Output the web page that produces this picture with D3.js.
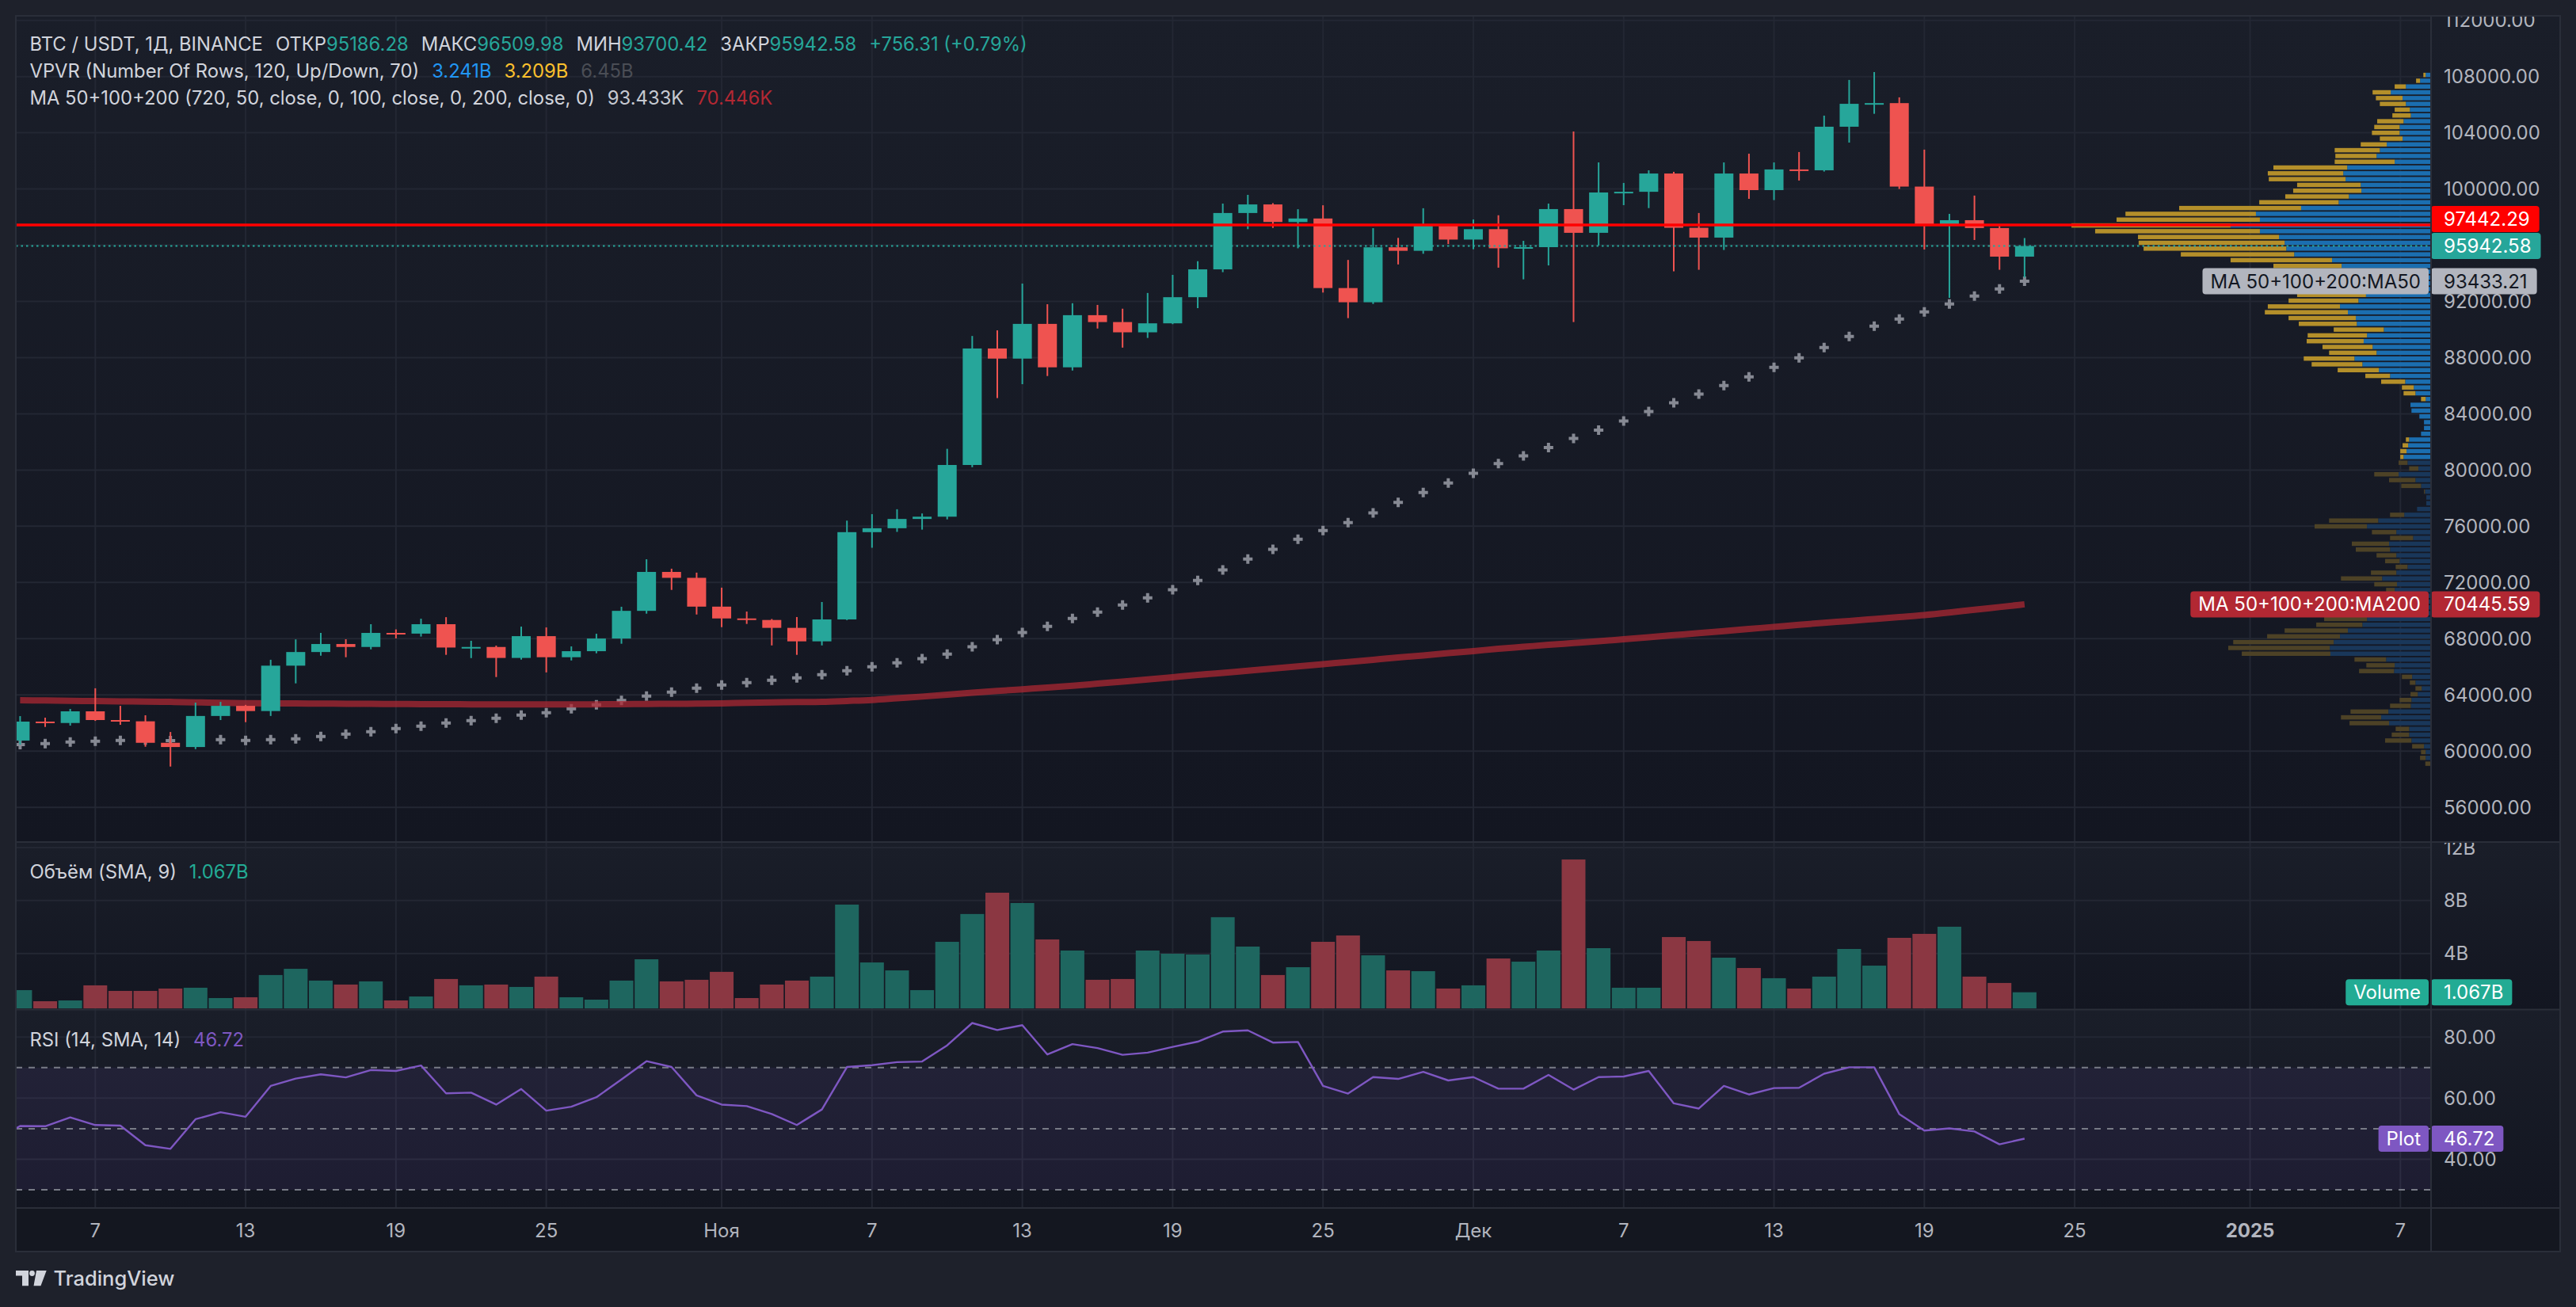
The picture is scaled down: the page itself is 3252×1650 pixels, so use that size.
<!DOCTYPE html>
<html><head>
<meta charset="utf-8">
<title>BTC / USDT, 1Д, BINANCE</title>
<script src="https://cdn.jsdelivr.net/npm/d3@7"></script>
<style>
  body { margin: 0; background: #1e212b; }
  svg { display: block; font-family: Inter, "Noto Sans", sans-serif; }
</style>
</head>
<body>
<svg id="chart" width="3252" height="1650"></svg>

<script>
// ---- data ----

// daily candles, first one is 4 Oct 2024
const firstDay = "2024-10-04";
const opens  = [60750,62100,62000,62830,62210,62120,60590,60290,62500,63220,
                62850,66080,67050,67620,67410,68410,68360,69030,67370,67410,
                66630,68180,66680,67110,68010,69980,72750,72330,70280,69440,
                69330,68770,67810,69370,75580,75860,76520,76680,80360,88650,
                87930,90400,87310,91020,90530,89800,90440,92300,94280,98290,
                98900,97650,97900,92950,91940,95850,95600,97380,96400,97140,
                95780,95860,98570,96880,99750,99800,101100,97240,96540,101100,
                99920,101390,101330,104430,106060,106110,100170,97460,97780,97220,
                95186.28];
const highs  = [62490,62380,63000,64470,63220,62550,61360,63450,63500,63290,
                66500,67950,68410,67960,69030,68660,69420,69530,67850,67510,
                68860,68800,67450,68350,70270,73650,72980,72700,71630,69930,
                69400,69540,70610,76400,76860,77210,76910,81510,89540,89940,
                93270,91800,91870,91750,91480,92600,93890,94860,98960,99580,
                98990,98560,98840,94950,97210,96520,98630,97460,97830,98130,
                96310,98960,104090,101890,100430,101330,101220,98290,101890,102510,
                101890,102630,105220,107760,108320,106520,102800,98230,99530,97400,
                96509.98];
const lows   = [60460,61720,61815,62150,61870,60310,58900,60140,62210,62060,
                62500,64820,66790,66680,67240,68020,68150,66850,66620,65270,
                66510,65600,66450,66960,67640,69780,71470,69720,68820,69050,
                67520,66850,67520,69320,74470,75600,75760,76490,80200,85120,
                86110,86690,87080,90070,88710,89400,90380,91520,94080,97140,
                97230,95780,92630,90810,91820,94630,95390,96080,95710,94400,
                93570,94560,90530,95980,98850,98640,94140,94250,95660,99300,
                99210,100600,101240,103300,105350,100000,95690,92250,96370,94250,
                93700.42];
const closes = [62100,62000,62830,62210,62120,60590,60290,62500,63220,62850,
                66080,67050,67620,67410,68410,68360,69030,67370,67410,66630,
                68180,66680,67110,68010,69980,72750,72330,70280,69440,69330,
                68770,67810,69370,75580,75860,76520,76680,80360,88650,87930,
                90400,87310,91020,90530,89800,90440,92300,94280,98290,98900,
                97650,97900,92950,91940,95850,95600,97380,96400,97140,95780,
                95860,98570,96880,99750,99800,101100,97240,96540,101100,99920,
                101390,101330,104430,106060,106110,100170,97460,97780,97220,95186.27,
                95942.58];
// daily volume, billions USDT
const volumes = [1.23,0.39,0.45,1.59,1.17,1.17,1.35,1.41,0.63,0.69,
                 2.37,2.84,1.95,1.65,1.89,0.45,0.75,2.07,1.59,1.65,
                 1.47,2.25,0.69,0.51,1.95,3.56,1.89,2.01,2.61,0.63,
                 1.65,1.95,2.25,7.69,3.32,2.72,1.23,4.88,6.98,8.59,
                 7.81,5.06,4.22,2.01,2.07,4.22,3.98,3.92,6.74,4.52,
                 2.37,2.96,4.88,5.36,3.86,2.72,2.66,1.35,1.59,3.62,
                 3.38,4.22,11.1,4.40,1.41,1.41,5.24,4.94,3.68,2.90,
                 2.13,1.35,2.25,4.34,3.08,5.18,5.48,6.02,2.25,1.77,
                 1.067];

// moving averages, one value per candle
const ma50 = [60462,60537,60650,60707,60763,60782,60744,60780,60820,60763,
              60820,60876,61045,61214,61383,61609,61778,62003,62173,62342,
              62567,62736,63018,63300,63600,63920,64202,64484,64709,64878,
              65047,65217,65442,65724,66000,66281,66580,66902,67431,67937,
              68443,68881,69433,69893,70399,70905,71481,72148,72885,73667,
              74358,75070,75691,76266,76956,77693,78407,79074,79764,80454,
              81006,81605,82249,82847,83492,84159,84780,85400,86016,86636,
              87313,87989,88722,89511,90244,90752,91259,91822,92386,92893,
              93433.21];
const ma200 = [63620,63600,63580,63560,63540,63520,63500,63470,63440,63410,
               63400,63390,63380,63370,63360,63350,63340,63335,63330,63325,
               63320,63320,63320,63330,63340,63355,63365,63375,63400,63430,
               63460,63490,63510,63570,63640,63760,63880,64010,64150,64280,
               64400,64520,64650,64800,64950,65100,65260,65420,65570,65720,
               65870,66030,66190,66340,66500,66660,66810,66970,67120,67280,
               67420,67560,67690,67820,67960,68100,68250,68400,68540,68690,
               68840,68990,69130,69260,69400,69540,69680,69860,70060,70250,
               70445.59];

// RSI line, starts one day earlier (3 Oct)
const rsiFirstDay = "2024-10-03";
const rsi = [46.2,
             50.9,50.8,53.7,51.2,51.0,44.6,43.4,53.1,55.4,53.9,
             64.0,66.4,67.8,66.8,69.2,68.9,70.7,61.6,61.8,57.9,
             63.0,55.9,57.2,60.3,66.1,72.1,70.2,60.9,57.9,57.4,
             54.8,51.2,56.3,70.2,70.8,71.8,72.0,77.3,84.6,82.3,
             83.9,74.3,77.7,76.4,74.2,74.9,76.8,78.5,81.8,82.2,
             78.2,78.4,64.0,61.5,66.9,66.3,68.6,65.8,66.9,63.1,
             63.1,67.6,62.8,66.9,67.1,68.9,58.3,56.6,64.0,61.2,
             63.3,63.4,68.0,70.1,70.1,54.8,49.4,50.1,49.1,44.9,
             46.72];

// volume profile, 120 rows listed from the top (highest price) down
const profileUp = [14,31,74,120,84,74,62,59,81,93, 93,84,132,153,163,108,252,264,257,211,
                   209,247,278,392,529,517,606,517,459,442, 437,413,298,269,245,225,205,215,195,218,
                   274,250,226,223,141,192,202,175,163,230, 206,156,122,76,50,45,14,60,57,33,
                   19,19,28,64,67,72,81,69,36,96, 45,28,16,12,12,40,79,158,192,103,
                   52,125,122,103,93,69,103,146,101,108, 135,145,165,175,192,206,250,274,293,305,
                   303,134,108,110,55,45,26,38,57,59, 127,149,125,64,64,57,19,14,14,0];
const profileDown = [7,12,34,55,81,79,46,56,80,77, 84,69,79,137,125,182,224,229,233,193,
                     207,193,241,370,396,435,483,500,428,443, 433,344,308,207,200,200,200,200,209,212,
                     219,252,204,176,152,180,173,152,144,154, 154,125,75,73,36,36,14,0,0,0,
                     0,0,0,10,17,19,10,27,28,74, 80,60,3,0,0,0,43,149,159,74,
                     70,113,104,60,44,36,77,125,69,26, 90,100,100,120,130,140,192,221,305,308,
                     269,96,86,106,31,17,19,22,36,63, 115,122,120,41,53,80,36,14,17,15];
const valueAreaRows = 67;       // rows counted from the top that sit inside the value area
const pocPrice = 97442.29;
const profileTotals = ["3.241B", "3.209B", "6.45B"];

// axes
const priceTicks = [56000,60000,64000,68000,72000,76000,80000,84000,88000,92000,96000,100000,104000,108000,112000];
const volumeTicks = [4, 8, 12];
const volumeTickLabels = ["4B", "8B", "12B"];
const rsiTicks = [40, 60, 80];
const rsiLevels = [70, 50, 30];
const timeTicks = ["2024-10-07","2024-10-13","2024-10-19","2024-10-25","2024-11-01","2024-11-07","2024-11-13",
                   "2024-11-19","2024-11-25","2024-12-01","2024-12-07","2024-12-13","2024-12-19","2024-12-25",
                   "2025-01-01","2025-01-07"];
const timeTickLabels = ["7","13","19","25","Ноя","7","13","19","25","Дек","7","13","19","25","2025","7"];


// ---- layout ----
const paneLeft = 20, paneTop = 20, axisX = 3069, paneRight = 3232;
const mainBottom = 1063, volBottom = 1274.5, rsiBottom = 1525, timeBottom = 1580;

const upColor = "#26a69a", downColor = "#ef5350";
const textColor = "#d1d4dc", axisColor = "#b2b5be";
const gridColor = "#232733", lineColor = "#2a2e39";

const parseDay = d3.utcParse("%Y-%m-%d");
const startDay = parseDay(firstDay);

const candles = opens.map((o, i) => ({
  day: d3.utcDay.offset(startDay, i),
  open: o, high: highs[i], low: lows[i], close: closes[i], volume: volumes[i],
  ma50: ma50[i], ma200: ma200[i]
}));
const rsiPoints = rsi.map((v, i) => ({ day: d3.utcDay.offset(parseDay(rsiFirstDay), i), value: v }));

const x = d3.scaleUtc().domain([parseDay("2024-10-04"), parseDay("2025-01-07")]).range([25.4, 3030.3]);
const y = d3.scaleLinear().domain([53530, 112320]).range([mainBottom, paneTop]);
const yVol = d3.scaleLinear().domain([0, 12]).range([1270.5, 1070]);
const yRsi = d3.scaleLinear().domain([30, 70]).range([1502, 1347.8]);

const svg = d3.select("#chart");
const defs = svg.append("defs");

function gradient(id, c0, c1) {
  let g = defs.append("linearGradient").attr("id", id).attr("x1", 0).attr("x2", 0).attr("y1", 0).attr("y2", 1);
  g.append("stop").attr("offset", "0%").attr("stop-color", c0);
  g.append("stop").attr("offset", "100%").attr("stop-color", c1);
}
gradient("paneBg", "#1a1e29", "#131621");

function clip(id, x0, y0, x1, y1) {
  defs.append("clipPath").attr("id", id)
    .append("rect").attr("x", x0).attr("y", y0).attr("width", x1 - x0).attr("height", y1 - y0);
}
clip("clipMain", paneLeft, paneTop, axisX, mainBottom);
clip("clipVol", paneLeft, mainBottom, axisX, volBottom);
clip("clipRsi", paneLeft, volBottom, axisX, rsiBottom);
clip("clipMainAxis", axisX, paneTop, paneRight, mainBottom);
clip("clipVolAxis", axisX, mainBottom, paneRight, volBottom);

// backgrounds
svg.append("rect").attr("width", 3252).attr("height", 1650).attr("fill", "#1e212b");
[[paneTop, mainBottom], [mainBottom, volBottom], [volBottom, rsiBottom]].forEach(function(p) {
  svg.append("rect").attr("x", paneLeft).attr("y", p[0]).attr("width", paneRight - paneLeft).attr("height", p[1] - p[0])
    .attr("fill", "url(#paneBg)");
});
svg.append("rect").attr("x", paneLeft).attr("y", rsiBottom).attr("width", paneRight - paneLeft)
  .attr("height", timeBottom - rsiBottom).attr("fill", "#141720");

// grid
let grid = svg.append("g").attr("stroke", gridColor).attr("stroke-width", 2);
timeTicks.forEach(function(t) {
  let gx = x(parseDay(t));
  grid.append("line").attr("x1", gx).attr("x2", gx).attr("y1", paneTop).attr("y2", rsiBottom);
});
priceTicks.forEach(function(p) {
  grid.append("line").attr("x1", paneLeft).attr("x2", axisX).attr("y1", y(p)).attr("y2", y(p))
    .attr("clip-path", "url(#clipMain)");
});
volumeTicks.forEach(function(v) {
  grid.append("line").attr("x1", paneLeft).attr("x2", axisX).attr("y1", yVol(v)).attr("y2", yVol(v));
});
rsiTicks.forEach(function(v) {
  grid.append("line").attr("x1", paneLeft).attr("x2", axisX).attr("y1", yRsi(v)).attr("y2", yRsi(v));
});

// ---- RSI pane ----
let rsiLayer = svg.append("g").attr("clip-path", "url(#clipRsi)");
rsiLayer.append("rect").attr("x", paneLeft).attr("width", axisX - paneLeft)
  .attr("y", yRsi(70)).attr("height", yRsi(30) - yRsi(70))
  .attr("fill", "#7e57c2").attr("fill-opacity", 0.1);
rsiLevels.forEach(function(v) {
  rsiLayer.append("line").attr("x1", paneLeft).attr("x2", axisX).attr("y1", yRsi(v)).attr("y2", yRsi(v))
    .attr("stroke", "#787b86").attr("stroke-width", 2).attr("stroke-dasharray", "8,8");
});
rsiLayer.append("path").datum(rsiPoints)
  .attr("d", d3.line().x(d => x(d.day)).y(d => yRsi(d.value)))
  .attr("fill", "none").attr("stroke", "#7e57c2").attr("stroke-width", 2.4).attr("stroke-linejoin", "round");

// ---- volume pane ----
let volLayer = svg.append("g").attr("clip-path", "url(#clipVol)");
volLayer.selectAll("rect.vol").data(candles).join("rect").attr("class", "vol")
  .attr("x", d => x(d.day) - 15).attr("width", 30)
  .attr("y", d => yVol(d.volume)).attr("height", d => volBottom - 1.5 - yVol(d.volume))
  .attr("fill", d => d.close >= d.open ? "#1e665f" : "#8b3742");

// ---- main pane ----
let main = svg.append("g").attr("clip-path", "url(#clipMain)");

// MA50 drawn as crosses
main.selectAll("path.ma50").data(candles).join("path").attr("class", "ma50")
  .attr("transform", d => "translate(" + x(d.day) + "," + y(d.ma50) + ")")
  .attr("d", d3.symbol(d3.symbolCross, 80))
  .attr("fill", "#868993");

// MA200
main.append("path").datum(candles)
  .attr("d", d3.line().curve(d3.curveMonotoneX).x(d => x(d.day)).y(d => y(d.ma200)))
  .attr("fill", "none").attr("stroke", "#b22833").attr("stroke-opacity", 0.72)
  .attr("stroke-width", 8).attr("stroke-linecap", "butt");

// candles
let candleG = main.selectAll("g.candle").data(candles).join("g").attr("class", "candle");
candleG.append("line")
  .attr("x1", d => x(d.day)).attr("x2", d => x(d.day))
  .attr("y1", d => y(d.high)).attr("y2", d => y(d.low))
  .attr("stroke", d => d.close >= d.open ? upColor : downColor).attr("stroke-width", 2);
candleG.append("rect")
  .attr("x", d => x(d.day) - 12).attr("width", 24)
  .attr("y", d => y(Math.max(d.open, d.close)))
  .attr("height", d => Math.max(2, Math.abs(y(d.open) - y(d.close))))
  .attr("fill", d => d.close >= d.open ? upColor : downColor);

// volume profile (visible range)
const hi = d3.max(highs), lo = d3.min(lows);
const rowStep = (hi - lo) / profileUp.length;
const rows = profileUp.map((u, r) => ({
  up: u, down: profileDown[r],
  top: hi - r * rowStep, bottom: hi - (r + 1) * rowStep,
  inside: r < valueAreaRows
}));
const w = d3.scaleLinear().domain([0, d3.max(rows, d => d.up + d.down)]).range([0, 453]);
let profile = main.append("g");
rows.forEach(function(d) {
  let ry = y(d.top) + 0.9, rh = y(d.bottom) - y(d.top) - 1.8;
  profile.append("rect").attr("x", axisX - 1 - w(d.up)).attr("width", w(d.up))
    .attr("y", ry).attr("height", rh).attr("fill", d.inside ? "#1b6eb0" : "#19375a");
  profile.append("rect").attr("x", axisX - 1 - w(d.up + d.down)).attr("width", w(d.down))
    .attr("y", ry).attr("height", rh).attr("fill", d.inside ? "#b48f2a" : "#4d4226");
});

// point of control
main.append("line").attr("x1", paneLeft).attr("x2", axisX).attr("y1", y(pocPrice)).attr("y2", y(pocPrice))
  .attr("stroke", "#ff0000").attr("stroke-width", 3.5);

// last price
const last = candles[candles.length - 1];
const prev = candles[candles.length - 2];
main.append("line").attr("x1", paneLeft).attr("x2", axisX).attr("y1", y(last.close)).attr("y2", y(last.close))
  .attr("stroke", upColor).attr("stroke-width", 2).attr("stroke-dasharray", "2.5,4");

// ---- legends ----
function legend(ly, parts) {
  let t = svg.append("text").attr("x", 37.5).attr("y", ly).attr("font-size", 23.8);
  parts.forEach(function(p) {
    t.append("tspan").attr("dx", p.dx || 0).attr("fill", p.c || textColor).text(p.t);
  });
}
const f2 = d3.format(".2f");
const change = last.close - prev.close;
legend(63.5, [
  { t: "BTC / USDT, 1Д, BINANCE" },
  { t: "ОТКР", dx: 16 }, { t: f2(last.open), c: upColor },
  { t: "МАКС", dx: 16 }, { t: f2(last.high), c: upColor },
  { t: "МИН", dx: 16 }, { t: f2(last.low), c: upColor },
  { t: "ЗАКР", dx: 16 }, { t: f2(last.close), c: upColor },
  { t: "+" + f2(change) + " (+" + f2(change / prev.close * 100) + "%)", c: upColor, dx: 16 }
]);
legend(98, [
  { t: "VPVR (Number Of Rows, 120, Up/Down, 70)" },
  { t: profileTotals[0], c: "#2196f3", dx: 16 },
  { t: profileTotals[1], c: "#fbc02d", dx: 16 },
  { t: profileTotals[2], c: "#4a4d55", dx: 16 }
]);
legend(131.5, [
  { t: "MA 50+100+200 (720, 50, close, 0, 100, close, 0, 200, close, 0)" },
  { t: d3.format(".3f")(last.ma50 / 1000) + "K", c: "#c6c9d1", dx: 16 },
  { t: d3.format(".3f")(last.ma200 / 1000) + "K", c: "#b22833", dx: 16 }
]);
legend(1108.5, [
  { t: "Объём (SMA, 9)" },
  { t: d3.format(".3f")(last.volume) + "B", c: "#22ab94", dx: 16 }
]);
legend(1321, [
  { t: "RSI (14, SMA, 14)" },
  { t: f2(rsi[rsi.length - 1]), c: "#7e57c2", dx: 16 }
]);

// ---- axes ----
let priceAxis = svg.append("g").attr("clip-path", "url(#clipMainAxis)")
  .attr("font-size", 24).attr("fill", axisColor);
priceTicks.forEach(function(p) {
  priceAxis.append("text").attr("x", axisX + 16).attr("y", y(p) + 8.5).text(f2(p));
});
let volAxis = svg.append("g").attr("clip-path", "url(#clipVolAxis)")
  .attr("font-size", 24).attr("fill", axisColor);
volumeTicks.forEach(function(v, i) {
  volAxis.append("text").attr("x", axisX + 16).attr("y", yVol(v) + 8.5).text(volumeTickLabels[i]);
});
rsiTicks.forEach(function(v) {
  svg.append("text").attr("x", axisX + 16).attr("y", yRsi(v) + 8.5)
    .attr("font-size", 24).attr("fill", axisColor).text(f2(v));
});
timeTicks.forEach(function(t, i) {
  svg.append("text").attr("x", x(parseDay(t))).attr("y", 1562)
    .attr("text-anchor", "middle").attr("font-size", 24).attr("fill", axisColor)
    .attr("font-weight", timeTickLabels[i] === "2025" ? 700 : 400)
    .text(timeTickLabels[i]);
});

// ---- labels on the right scale ----
function axisLabel(cy, value, fill, ink, name, valuePad) {
  let g = svg.append("g").attr("font-size", 24);
  let vt = g.append("text").attr("x", axisX + 16).attr("y", cy + 8.5).attr("fill", ink).text(value);
  let vw = vt.node().getComputedTextLength();
  g.insert("rect", "text").attr("x", axisX).attr("y", cy - 16.5)
    .attr("width", vw + 16 + valuePad).attr("height", 33).attr("rx", 4).attr("fill", fill);
  if (name) {
    let nt = g.append("text").attr("x", axisX - 13).attr("y", cy + 8.5)
      .attr("text-anchor", "end").attr("fill", ink).text(name);
    let nw = nt.node().getComputedTextLength();
    g.insert("rect", "text").attr("x", axisX - 3 - nw - 20).attr("y", cy - 16.5)
      .attr("width", nw + 20).attr("height", 33).attr("rx", 4).attr("fill", fill);
  }
}

// main pane labels pushed apart when they overlap
let mainLabels = [
  { cy: y(pocPrice), value: f2(pocPrice), fill: "#ff0000", ink: "#ffffff" },
  { cy: y(last.close), value: f2(last.close), fill: upColor, ink: "#ffffff" },
  { cy: y(last.ma50), value: f2(last.ma50), fill: "#b2b5be", ink: "#131722", name: "MA 50+100+200:MA50" },
  { cy: y(last.ma200), value: f2(last.ma200), fill: "#b22833", ink: "#ffffff", name: "MA 50+100+200:MA200" }
].sort((a, b) => a.cy - b.cy);
for (let i = mainLabels.length - 2; i >= 0; i--) {
  if (mainLabels[i].cy > mainLabels[i + 1].cy - 34) mainLabels[i].cy = mainLabels[i + 1].cy - 34;
}
mainLabels.forEach(l => axisLabel(l.cy, l.value, l.fill, l.ink, l.name, 12));
axisLabel(yVol(last.volume), d3.format(".3f")(last.volume) + "B", "#22ab94", "#ffffff", "Volume", 11);
axisLabel(yRsi(rsi[rsi.length - 1]), f2(rsi[rsi.length - 1]), "#7e57c2", "#ffffff", "Plot", 11);

// ---- borders ----
let borders = svg.append("g").attr("stroke", lineColor).attr("stroke-width", 2).attr("fill", "none");
[mainBottom, volBottom, rsiBottom].forEach(function(b) {
  borders.append("line").attr("x1", paneLeft).attr("x2", paneRight).attr("y1", b).attr("y2", b);
});
borders.append("line").attr("x1", axisX).attr("x2", axisX).attr("y1", paneTop).attr("y2", timeBottom);
borders.append("rect").attr("x", paneLeft).attr("y", paneTop).attr("width", paneRight - paneLeft).attr("height", timeBottom - paneTop);

// ---- TradingView mark ----
let logo = svg.append("g").attr("fill", "#d1d4dc");
logo.append("path").attr("d", "M20,1604 H36 V1623.3 H28 V1610.5 H20 Z");
logo.append("circle").attr("cx", 40.5).attr("cy", 1607.5).attr("r", 3.4);
logo.append("path").attr("d", "M46,1604 H58.7 L51.5,1623.3 H42.5 Z");
logo.append("text").attr("x", 67.5).attr("y", 1623).attr("font-size", 25.5).attr("font-weight", 500)
  .text("TradingView");
</script>
</body>
</html>
